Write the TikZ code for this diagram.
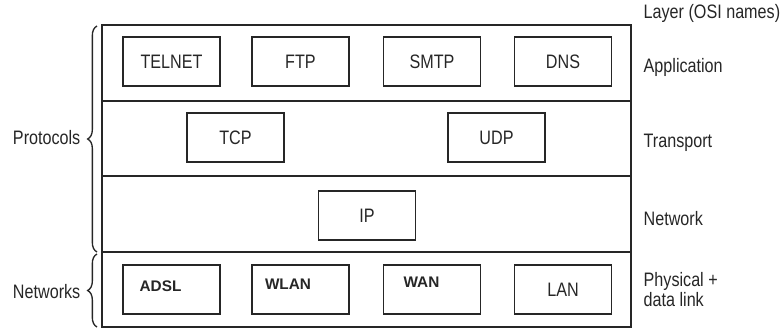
\documentclass[tikz,border=0pt]{standalone}
\usepackage{fontspec}
\setmainfont{Liberation Sans}[FakeStretch=0.83]
\newfontfamily\netfont{Liberation Sans}
\usetikzlibrary{decorations.pathreplacing}

\begin{document}
\begin{tikzpicture}[x=0.75pt,y=-0.75pt,line width=1pt,color=black!85,
	protobox/.style={draw,minimum width=72.75pt,minimum height=36.75pt,inner sep=0pt,
		font=\fontsize{14.6}{15}\selectfont},
	nettext/.style={inner sep=0pt,font=\netfont\bfseries\fontsize{11.5}{12}\selectfont},
	layername/.style={inner sep=0pt,align=left,font=\fontsize{14.6}{15}\selectfont},
	curly/.style={decorate,decoration={brace,amplitude=7pt}}]
	\useasboundingbox (0,0) rectangle (782,329);
	\draw (102,25) rectangle (631,327);
	\foreach \y in {101,176,252}
		\draw (102,\y) -- (631,\y);
	\node[protobox] (telnet) at (171.5,61.5) {TELNET};
	\node[protobox] (ftp) at (300.5,61.5) {FTP};
	\node[protobox] (smtp) at (432,61.5) {SMTP};
	\node[protobox] (dns) at (563,61.5) {DNS};
	\node[protobox] (tcp) at (235.5,137.5) {TCP};
	\node[protobox] (udp) at (496.5,137.5) {UDP};
	\node[protobox] (ip) at (367,215.5) {IP};
	\node[protobox] (adsl) at (171.5,289.5) {};
	\node[protobox] (wlan) at (300.5,289.5) {};
	\node[protobox] (wan) at (432,289.5) {};
	\node[protobox] (lan) at (563,289.5) {LAN};
	\node[nettext] (adsl-text) at (160.5,286) {ADSL};
	\node[nettext] (wlan-text) at (288,284.5) {WLAN};
	\node[nettext] (wan-text) at (421.5,282.5) {WAN};
	\node[layername,anchor=base west] (osi) at (643,18) {Layer (OSI names)};
	\node[layername,anchor=base west] (application) at (643,72) {Application};
	\node[layername,anchor=base west] (transport) at (643,147) {Transport};
	\node[layername,anchor=base west] (network) at (643,225) {Network};
	\node[layername,anchor=west] (physical) at (643,290) {Physical +\\data link};
	\node[layername,anchor=base east] (protocols) at (81,144) {Protocols};
	\node[layername,anchor=base east] (networks) at (81,298) {Networks};
	\coordinate (proto-top) at (97,26);
	\coordinate (proto-bottom) at (97,252);
	\coordinate (net-top) at (97,254);
	\coordinate (net-bottom) at (97,327);
	\draw[curly] (proto-bottom) -- (proto-top);
	\draw[curly] (net-bottom) -- (net-top);
\end{tikzpicture}
\end{document}
